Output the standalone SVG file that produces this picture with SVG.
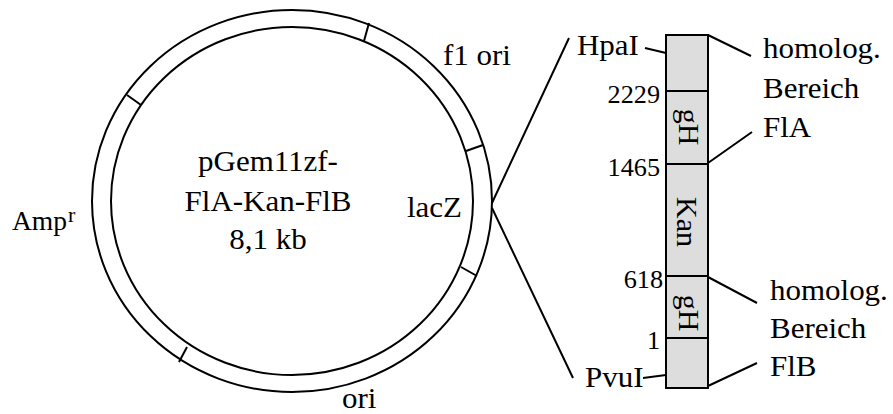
<svg xmlns="http://www.w3.org/2000/svg" width="893" height="414" viewBox="0 0 893 414">
<style>
.ln{fill:none;stroke:#000;stroke-width:2}
.t{font-family:"Liberation Serif","Times New Roman",Times,serif;font-size:29.5px;fill:#000}
.n{font-family:"Liberation Serif","Times New Roman",Times,serif;font-size:25px;fill:#000;text-anchor:end}
.r{font-family:"Liberation Serif","Times New Roman",Times,serif;font-size:30px;fill:#000;text-anchor:middle}
.m{text-anchor:middle}
.bar{fill:#dddddd;stroke:#000;stroke-width:2}
</style>
<rect width="893" height="414" fill="#fff"/>
<g id="plasmid">
<ellipse class="ln" cx="292" cy="201" rx="200" ry="191"/>
<ellipse class="ln" cx="292" cy="201" rx="181" ry="174"/>
<path class="ln" d="M369,23 L364,41 M483,145 L466,151 M477,276 L461,267 M187,347 L179,362 M127,95 L141,105"/>
</g>
<g id="plasmid-labels">
<text class="t m" transform="matrix(1.05 0 0 1 268 171)">pGem11zf-</text>
<text class="t m" transform="matrix(1.05 0 0 1 268 211)">FlA-Kan-FlB</text>
<text class="t m" transform="matrix(1.05 0 0 1 268 249)">8,1 kb</text>
<text class="t" transform="matrix(1.05 0 0 1 407 217)">lacZ</text>
<text class="t" transform="matrix(1.05 0 0 1 443 65)">f1 ori</text>
<text class="t" transform="matrix(1.05 0 0 1 342 408)">ori</text>
<text class="t" x="12" y="230" style="font-size:27.5px">Amp</text>
<text class="t" x="68" y="222" style="font-size:22px">r</text>
</g>
<g id="connectors">
<path class="ln" d="M492,203 L569,38 M492,208 L573,378"/>
<path class="ln" d="M645,48 L666,53 M643,378 L666,375"/>
<path class="ln" d="M708,35 L751,56 M708,163 L752,132 M708,277 L757,303 M708,386 L757,363"/>
</g>
<g id="insert">
<rect class="bar" x="666" y="35" width="42" height="353"/>
<path class="ln" d="M666,91 H708 M666,164 H708 M666,276 H708 M666,338 H708"/>
<text class="r" transform="translate(679,127) rotate(90)">gH</text>
<text class="r" transform="translate(677,222) rotate(90)">Kan</text>
<text class="r" transform="translate(679,313) rotate(90)">gH</text>
</g>
<g id="insert-labels">
<text class="t" transform="matrix(1.05 0 0 1 577 55)">HpaI</text>
<text class="t" transform="matrix(1.05 0 0 1 585 387)">PvuI</text>
<text class="n" transform="matrix(1.05 0 0 1 660 103)">2229</text>
<text class="n" transform="matrix(1.05 0 0 1 660 176)">1465</text>
<text class="n" transform="matrix(1.05 0 0 1 663 288)">618</text>
<text class="n" transform="matrix(1.05 0 0 1 660 349)">1</text>
<text class="t" transform="matrix(1.05 0 0 1 763 58)">homolog.</text>
<text class="t" transform="matrix(1.05 0 0 1 763 98)">Bereich</text>
<text class="t" transform="matrix(1.05 0 0 1 763 137)">FlA</text>
<text class="t" transform="matrix(1.05 0 0 1 770 300)">homolog.</text>
<text class="t" transform="matrix(1.05 0 0 1 770 338)">Bereich</text>
<text class="t" transform="matrix(1.05 0 0 1 770 376)">FlB</text>
</g>
</svg>
